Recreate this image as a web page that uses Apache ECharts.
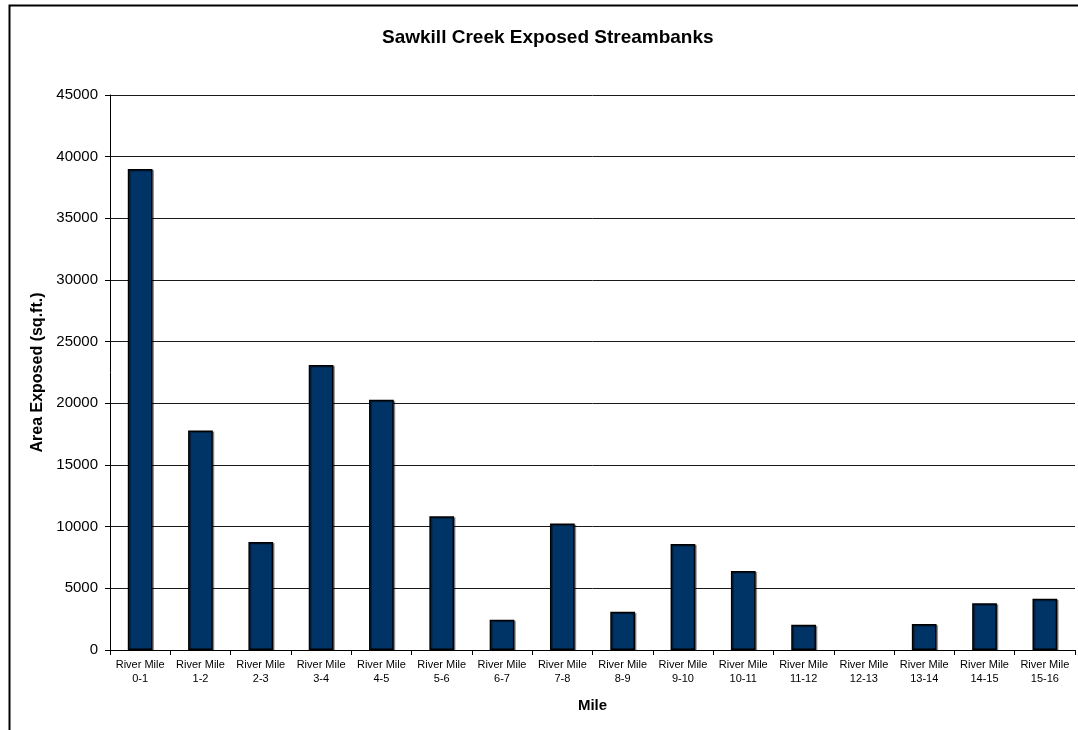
<!DOCTYPE html>
<html>
<head>
<meta charset="utf-8">
<title>Sawkill Creek Exposed Streambanks</title>
<script src="https://cdn.jsdelivr.net/npm/echarts@6/dist/echarts.min.js"></script>
<style>
  html, body { margin: 0; padding: 0; background: #fff; }
  #chart { width: 1078px; height: 730px; }
</style>
</head>
<body>
<div id="chart"></div>
<script>
// Stream segments along Sawkill Creek
const categories = [
  'River Mile\n0-1', 'River Mile\n1-2', 'River Mile\n2-3', 'River Mile\n3-4',
  'River Mile\n4-5', 'River Mile\n5-6', 'River Mile\n6-7', 'River Mile\n7-8',
  'River Mile\n8-9', 'River Mile\n9-10', 'River Mile\n10-11', 'River Mile\n11-12',
  'River Mile\n12-13', 'River Mile\n13-14', 'River Mile\n14-15', 'River Mile\n15-16'
];

// Exposed streambank area per mile (sq.ft.)
const areaExposed = [
  39000, 17800, 8750, 23100, 20300, 10850, 2450, 10250,
  3100, 8600, 6400, 2050, 0, 2100, 3800, 4150
];

// Value axis range
const yMin = 0;
const yMax = 45000;
const yStep = 5000;

const FONT = 'Liberation Sans, Arial, Helvetica, sans-serif';

// Zero-length bars get no outline so they leave no mark on the axis
const barData = areaExposed.map(v => (v === 0
  ? { value: v, itemStyle: { borderWidth: 0, shadowColor: 'transparent' } }
  : v));

const chart = echarts.init(document.getElementById('chart'), null, { renderer: 'canvas' });

chart.setOption({
  animation: false,
  backgroundColor: '#ffffff',
  textStyle: { fontFamily: FONT, color: '#000' },
  title: {
    text: 'Sawkill Creek Exposed Streambanks',
    left: 382,
    top: 28,
    padding: 0,
    textStyle: { fontFamily: FONT, fontSize: 19, fontWeight: 'bold', color: '#000' }
  },
  graphic: [{
    type: 'rect',
    shape: { x: 9.5, y: 5.5, width: 1100, height: 800 },
    style: { fill: 'none', stroke: '#000', lineWidth: 2 },
    silent: true
  }],
  grid: { left: 110, right: 3, top: 95, bottom: 80, containLabel: false },
  xAxis: {
    type: 'category',
    data: categories,
    name: 'Mile',
    nameLocation: 'middle',
    nameGap: 48,
    nameTextStyle: { fontFamily: FONT, fontSize: 15, fontWeight: 'bold', color: '#000' },
    axisLine: { show: true, lineStyle: { color: '#000', width: 1 } },
    axisTick: { show: true, length: 5, lineStyle: { color: '#000' } },
    axisLabel: {
      interval: 0,
      fontFamily: FONT,
      fontSize: 11,
      lineHeight: 14,
      color: '#000',
      margin: 8
    },
    splitLine: { show: false }
  },
  yAxis: {
    type: 'value',
    min: yMin,
    max: yMax,
    interval: yStep,
    name: 'Area Exposed (sq.ft.)',
    nameLocation: 'middle',
    nameGap: 60,
    nameTextStyle: { fontFamily: FONT, fontSize: 16, fontWeight: 'bold', color: '#000' },
    axisLine: { show: true, lineStyle: { color: '#000', width: 1 } },
    axisTick: { show: true, length: 5, inside: false, lineStyle: { color: '#000' } },
    axisLabel: {
      fontFamily: FONT,
      fontSize: 15,
      color: '#000',
      margin: 12,
      formatter: v => String(v)
    },
    splitLine: { show: true, lineStyle: { color: '#1a1a1a', width: 1 } }
  },
  series: [{
    type: 'bar',
    data: barData,
    barWidth: '41%',
    itemStyle: {
      color: '#003366',
      borderColor: '#000',
      borderWidth: 1.5,
      shadowColor: 'rgba(0,0,0,0.35)',
      shadowOffsetX: 1.5,
      shadowOffsetY: 1,
      shadowBlur: 0
    },
    emphasis: { disabled: true }
  }]
});
</script>
</body>
</html>
